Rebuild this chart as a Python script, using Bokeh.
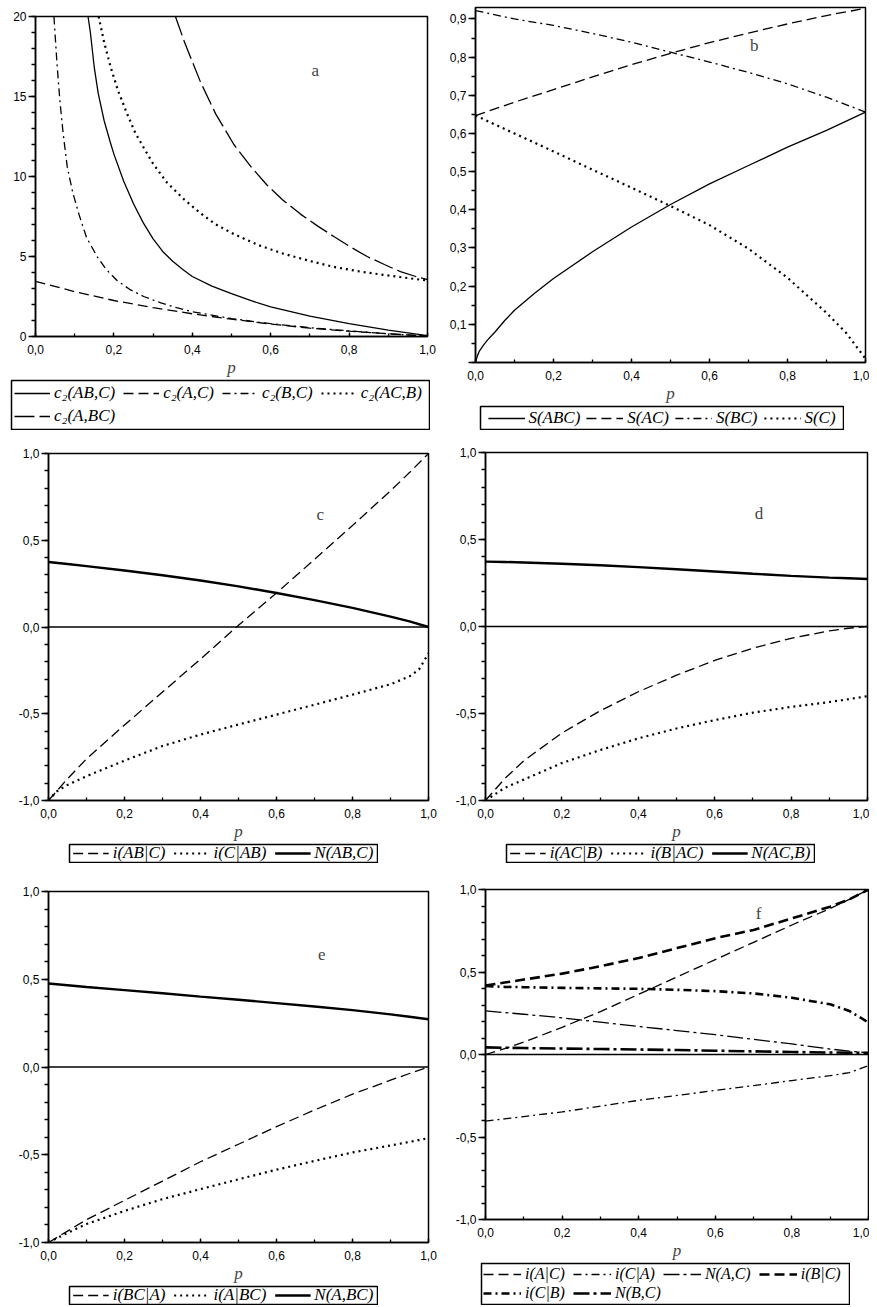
from bokeh.plotting import figure
from bokeh.models import (Range1d, Legend, LegendItem, Span, Label, Spacer,
                          CustomJSTickFormatter, SingleIntervalTicker)
from bokeh.layouts import column, row
from bokeh.embed import file_html
from bokeh.resources import INLINE

# ---------------- data ----------------
# panel a
p_ab_c = [0.134, 0.14, 0.15, 0.16, 0.175, 0.19, 0.2, 0.225, 0.25, 0.275, 0.3, 0.325, 0.35,
          0.375, 0.4, 0.45, 0.5, 0.55, 0.6, 0.7, 0.8, 0.9, 1.0]
c2_ab_c = [20, 19.0, 16.8, 15.2, 13.5, 12.2, 11.4, 9.7, 8.3, 7.1, 6.1, 5.3, 4.7,
           4.2, 3.75, 3.15, 2.68, 2.24, 1.85, 1.28, 0.8, 0.4, 0.05]
p_a_c = [0, 0.1, 0.2, 0.3, 0.4, 0.5, 0.6, 0.7, 0.8, 0.9, 1.0]
c2_a_c = [3.45, 2.8, 2.25, 1.8, 1.42, 1.08, 0.78, 0.52, 0.33, 0.17, 0.03]
p_b_c = [0.047, 0.055, 0.062, 0.07, 0.081, 0.095, 0.11, 0.13, 0.157, 0.18, 0.208, 0.24,
         0.276, 0.32, 0.36, 0.4, 0.5, 0.6, 0.7, 0.8, 0.9, 1.0]
c2_b_c = [20, 17, 14.8, 12.8, 10.6, 9.0, 7.7, 6.2, 5.0, 4.2, 3.5, 2.95,
          2.5, 2.1, 1.8, 1.55, 1.12, 0.8, 0.55, 0.35, 0.17, 0.03]
p_ac_b = [0.161, 0.175, 0.191, 0.21, 0.234, 0.255, 0.276, 0.3, 0.336, 0.38, 0.421, 0.46,
          0.506, 0.57, 0.633, 0.7, 0.761, 0.83, 0.889, 0.95, 1.0]
c2_ac_b = [20, 18.4, 16.9, 15.4, 13.9, 12.7, 11.8, 10.8, 9.6, 8.55, 7.7, 7.0,
           6.4, 5.7, 5.17, 4.72, 4.35, 4.05, 3.85, 3.65, 3.5]
p_a_bc = [0.357, 0.38, 0.421, 0.46, 0.506, 0.55, 0.591, 0.63, 0.676, 0.72, 0.761, 0.8,
          0.846, 0.89, 0.931, 0.97, 1.0]
c2_a_bc = [20, 18.4, 15.9, 13.9, 12.0, 10.6, 9.45, 8.55, 7.65, 6.9, 6.25, 5.65,
           5.0, 4.5, 4.05, 3.75, 3.55]

# panel b
p_s_abc = [0, 0.005, 0.01, 0.02, 0.03, 0.05, 0.075, 0.1, 0.15, 0.2, 0.3, 0.4, 0.5, 0.6,
           0.7, 0.8, 0.9, 1.0]
s_abc = [0.0, 0.018, 0.03, 0.045, 0.058, 0.08, 0.11, 0.137, 0.18, 0.22, 0.29, 0.355, 0.414,
         0.468, 0.516, 0.564, 0.608, 0.656]
p_s = [0, 0.1, 0.2, 0.3, 0.4, 0.5, 0.6, 0.7, 0.8, 0.9, 1.0]
s_ac = [0.647, 0.682, 0.715, 0.748, 0.78, 0.81, 0.838, 0.863, 0.887, 0.909, 0.928]
s_bc = [0.922, 0.9, 0.883, 0.862, 0.839, 0.813, 0.787, 0.76, 0.73, 0.695, 0.656]
p_s_c = [0, 0.1, 0.2, 0.3, 0.4, 0.5, 0.6, 0.7, 0.8, 0.9, 0.95, 1.0]
s_c = [0.647, 0.6, 0.553, 0.505, 0.458, 0.41, 0.36, 0.298, 0.222, 0.13, 0.078, 0.01]

# panels c - f share one grid of p
p_grid = [0, 0.05, 0.1, 0.2, 0.3, 0.4, 0.5, 0.6, 0.7, 0.8, 0.9, 0.95, 1.0]
# panel c
i_ab_c = [-1.0, -0.875, -0.76, -0.565, -0.375, -0.185, 0.01, 0.196, 0.39, 0.585, 0.785, 0.89, 1.0]
p_c_ab = [0, 0.02, 0.05, 0.1, 0.2, 0.3, 0.4, 0.5, 0.6, 0.7, 0.8, 0.9, 0.95, 0.975, 1.0]
i_c_ab = [-1.0, -0.95, -0.91, -0.86, -0.77, -0.686, -0.62, -0.562, -0.505, -0.448, -0.39,
          -0.33, -0.285, -0.245, -0.152]
n_ab_c = [0.375, 0.363, 0.351, 0.326, 0.298, 0.268, 0.234, 0.196, 0.155, 0.11, 0.06, 0.032, 0.0]
# panel d
i_ac_b = [-1.0, -0.875, -0.772, -0.612, -0.485, -0.375, -0.28, -0.195, -0.125, -0.068, -0.025, -0.01, 0.0]
i_b_ac = [-1.0, -0.928, -0.88, -0.785, -0.71, -0.643, -0.586, -0.538, -0.495, -0.462, -0.434, -0.418, -0.4]
n_ac_b = [0.373, 0.371, 0.368, 0.361, 0.352, 0.341, 0.329, 0.316, 0.303, 0.291, 0.281, 0.277, 0.273]
# panel e
i_bc_a = [-1.0, -0.935, -0.87, -0.76, -0.65, -0.54, -0.44, -0.34, -0.245, -0.155, -0.075, -0.037, 0.0]
i_a_bc = [-1.0, -0.945, -0.895, -0.82, -0.753, -0.696, -0.64, -0.585, -0.535, -0.487, -0.447, -0.427, -0.405]
n_a_bc = [0.476, 0.466, 0.456, 0.438, 0.42, 0.401, 0.383, 0.364, 0.345, 0.324, 0.3, 0.286, 0.272]
# panel f
i_a_c = [0.0, 0.035, 0.075, 0.165, 0.26, 0.365, 0.47, 0.575, 0.68, 0.785, 0.885, 0.94, 1.0]
i_c_a = [-0.404, -0.39, -0.376, -0.348, -0.313, -0.278, -0.248, -0.218, -0.188, -0.158, -0.128, -0.11, -0.068]
n_a_c = [0.264, 0.254, 0.244, 0.222, 0.196, 0.17, 0.145, 0.12, 0.092, 0.064, 0.033, 0.02, 0.01]
i_b_c = [0.418, 0.436, 0.454, 0.49, 0.535, 0.585, 0.645, 0.705, 0.755, 0.825, 0.896, 0.94, 1.0]
i_c_b = [0.415, 0.41, 0.408, 0.404, 0.401, 0.398, 0.392, 0.384, 0.37, 0.344, 0.304, 0.264, 0.194]
n_b_c = [0.043, 0.041, 0.039, 0.036, 0.033, 0.03, 0.027, 0.023, 0.019, 0.015, 0.012, 0.011, 0.01]

# ---------------- styling ----------------
SANS = "Liberation Sans"
SERIF = "Liberation Serif"
SOLID = dict(line_color="black", line_width=1.3)
DASH = dict(line_color="black", line_width=1.3, line_dash="10 5")
DOT = dict(line_color="black", line_width=2.2, line_dash="2 4")
DASHDOT = dict(line_color="black", line_width=1.3, line_dash="8 4 2 4")
LONG = dict(line_color="black", line_width=1.3, line_dash="20 5")
LONGDASH = dict(line_color="black", line_width=1.3, line_dash="16 4 3 4")
THICK = dict(line_color="black", line_width=2.4)
TDASH = dict(line_color="black", line_width=2.6, line_dash="10 5")
TDASHDOT = dict(line_color="black", line_width=2.6, line_dash="8 4 2 4")
TLONGDASH = dict(line_color="black", line_width=2.6, line_dash="16 4 3 4")
SIGNED = "return tick.toFixed(1).replace('.', ',')"


def make_fig(w, h, left, right, top, bottom, yr, yint, yminor, yfmt):
    f = figure(width=w, height=h, min_border_left=left, min_border_right=right,
               min_border_top=top, min_border_bottom=bottom,
               x_range=Range1d(0, 1), y_range=Range1d(*yr),
               output_backend="svg", toolbar_location=None)
    f.grid.visible = False
    f.outline_line_color = "black"
    f.outline_line_width = 1.5
    f.outline_line_alpha = 1
    f.background_fill_color = "white"
    f.border_fill_color = "white"
    xa, ya = f.xaxis[0], f.yaxis[0]
    xa.ticker = SingleIntervalTicker(interval=0.2, num_minor_ticks=2)
    xa.formatter = CustomJSTickFormatter(code=SIGNED)
    ya.ticker = SingleIntervalTicker(interval=yint, num_minor_ticks=yminor)
    ya.formatter = CustomJSTickFormatter(code=yfmt)
    for ax in (xa, ya):
        ax.axis_line_width = 1.5
        ax.major_tick_line_width = 1.3
        ax.minor_tick_line_width = 1.3
        ax.major_label_text_font = SANS
        ax.major_label_text_font_size = "12px"
        ax.major_label_text_color = "black"
    xa.major_tick_in = 4
    xa.major_tick_out = 0
    xa.minor_tick_in = 3
    xa.minor_tick_out = 0
    xa.major_label_standoff = 8
    xa.axis_label = "p"
    xa.axis_label_text_font = SERIF
    xa.axis_label_text_font_style = "italic"
    xa.axis_label_text_font_size = "17px"
    xa.axis_label_standoff = 1
    ya.major_tick_in = 0
    ya.major_tick_out = 7
    ya.minor_tick_in = 0
    ya.minor_tick_out = 4
    ya.major_label_standoff = 2
    return f


def legend_box(w, h, rows, gw, lh, sp, fs="17px", mg=3):
    """A small framed figure that only holds the legend of one panel.
    The series are drawn again far outside its visible range, so only the
    legend samples show."""
    lf = figure(width=w, height=h, min_border=1, x_range=Range1d(0, 1),
                y_range=Range1d(1000, 1001), x_axis_type=None, y_axis_type=None,
                output_backend="svg", toolbar_location=None)
    lf.grid.visible = False
    lf.outline_line_color = "black"
    lf.outline_line_width = 1.5
    lf.outline_line_alpha = 1
    lf.background_fill_color = "white"
    lf.border_fill_color = "white"
    for k, entries in enumerate(rows):
        items = []
        for label, style, xs, ys in entries:
            r = lf.line(xs, ys, **style)
            items.append(LegendItem(label=label, renderers=[r]))
        if len(rows) == 1:
            loc = "center"
        else:
            loc = "top_left" if k == 0 else "bottom_left"
        lg = Legend(items=items, orientation="horizontal", location=loc,
                    glyph_width=gw, glyph_height=lh, label_height=lh, padding=0,
                    spacing=sp, label_standoff=4, margin=mg,
                    border_line_alpha=0, background_fill_alpha=0,
                    label_text_font=SERIF, label_text_font_style="italic",
                    label_text_font_size=fs, label_text_color="black")
        lf.add_layout(lg, "center")
    return lf


def add_tag(f, x, y, t):
    f.add_layout(Label(x=x, y=y, text=t, text_font=SERIF, text_font_size="17px",
                       text_align="center", text_baseline="middle"))


def zero_line(f):
    f.add_layout(Span(location=0, dimension="width", line_color="black", line_width=1.3))


# ---------------- panel a ----------------
fa = make_fig(440, 379, 35, 13, 16, 43, (0, 20), 5, 5, "return tick.toFixed(0)")
fa.line(p_ab_c, c2_ab_c, **SOLID)
fa.line(p_a_c, c2_a_c, **DASH)
fa.line(p_b_c, c2_b_c, **DASHDOT)
fa.line(p_ac_b, c2_ac_b, **DOT)
fa.line(p_a_bc, c2_a_bc, **LONG)
add_tag(fa, 0.714, 16.6, "a")
la = legend_box(420, 51, [[("c₂(AB,C)", SOLID, p_ab_c, c2_ab_c),
                           ("c₂(A,C)", DASH, p_a_c, c2_a_c),
                           ("c₂(B,C)", DASHDOT, p_b_c, c2_b_c),
                           ("c₂(AC,B)", DOT, p_ac_b, c2_ac_b)],
                          [("c₂(A,BC)", LONG, p_a_bc, c2_a_bc)]], 36, 18, 8)

# ---------------- panel b ----------------
fb = make_fig(429, 405, 35, 4, 7, 43, (0, 0.93), 0.1, 2,
              "return tick < 0.05 ? '' : tick.toFixed(1).replace('.', ',')")
fb.line(p_s_abc, s_abc, **SOLID)
fb.line(p_s, s_ac, **DASH)
fb.line(p_s, s_bc, **DASHDOT)
fb.line(p_s_c, s_c, **DOT)
add_tag(fb, 0.715, 0.83, "b")
lb = legend_box(365, 25, [[("S(ABC)", SOLID, p_s_abc, s_abc), ("S(AC)", DASH, p_s, s_ac),
                           ("S(BC)", DASHDOT, p_s, s_bc), ("S(C)", DOT, p_s_c, s_c)]], 37, 18, 6)

# ---------------- panel c ----------------
fc = make_fig(440, 413, 48, 12, 23, 42, (-1, 1), 0.5, 5, SIGNED)
zero_line(fc)
fc.line(p_grid, i_ab_c, **DASH)
fc.line(p_c_ab, i_c_ab, **DOT)
fc.line(p_grid, n_ab_c, **THICK)
add_tag(fc, 0.715, 0.648, "c")
lc = legend_box(310, 20, [[("i(AB|C)", DASH, p_grid, i_ab_c), ("i(C|AB)", DOT, p_c_ab, i_c_ab),
                           ("N(AB,C)", THICK, p_grid, n_ab_c)]], 36, 16, 8)

# ---------------- panel d ----------------
fd = make_fig(429, 413, 45, 2, 22, 42, (-1, 1), 0.5, 5, SIGNED)
zero_line(fd)
fd.line(p_grid, i_ac_b, **DASH)
fd.line(p_grid, i_b_ac, **DOT)
fd.line(p_grid, n_ac_b, **THICK)
add_tag(fd, 0.716, 0.652, "d")
ld = legend_box(310, 20, [[("i(AC|B)", DASH, p_grid, i_ac_b), ("i(B|AC)", DOT, p_grid, i_b_ac),
                           ("N(AC,B)", THICK, p_grid, n_ac_b)]], 36, 16, 8)

# ---------------- panel e ----------------
fe = make_fig(440, 422, 48, 12, 28, 43, (-1, 1), 0.5, 5, SIGNED)
zero_line(fe)
fe.line(p_grid, i_bc_a, **DASH)
fe.line(p_grid, i_a_bc, **DOT)
fe.line(p_grid, n_a_bc, **THICK)
add_tag(fe, 0.719, 0.643, "e")
le = legend_box(310, 20, [[("i(BC|A)", DASH, p_grid, i_bc_a), ("i(A|BC)", DOT, p_grid, i_a_bc),
                           ("N(A,BC)", THICK, p_grid, n_a_bc)]], 36, 16, 8)

# ---------------- panel f ----------------
ff = make_fig(429, 399, 45, 1, 26, 43, (-1, 1), 0.5, 5, SIGNED)
zero_line(ff)
ff.line(p_grid, i_a_c, **DASH)
ff.line(p_grid, i_c_a, **DASHDOT)
ff.line(p_grid, n_a_c, **LONGDASH)
ff.line(p_grid, i_b_c, **TDASH)
ff.line(p_grid, i_c_b, **TDASHDOT)
ff.line(p_grid, n_b_c, **TLONGDASH)
add_tag(ff, 0.713, 0.856, "f")
lf_ = legend_box(370, 43, [[("i(A|C)", DASH, p_grid, i_a_c), ("i(C|A)", DASHDOT, p_grid, i_c_a),
                            ("N(A,C)", LONGDASH, p_grid, n_a_c), ("i(B|C)", TDASH, p_grid, i_b_c)],
                           [("i(C|B)", TDASHDOT, p_grid, i_c_b),
                            ("N(B,C)", TLONGDASH, p_grid, n_b_c)]], 38, 18, 8, "16px", 2)

col_a = column(fa, row(Spacer(width=10, height=51), la))
col_b = column(fb, row(Spacer(width=39, height=25), lb))
col_c = column(fc, row(Spacer(width=68, height=20), lc))
col_d = column(fd, row(Spacer(width=65, height=20), ld))
col_e = column(fe, row(Spacer(width=68, height=20), le))
col_f = column(ff, row(Spacer(width=40, height=43), lf_))

layout = column(row(col_a, col_b), row(col_c, col_d), row(col_e, col_f))
open("out.html", "w").write(file_html(layout, INLINE))
